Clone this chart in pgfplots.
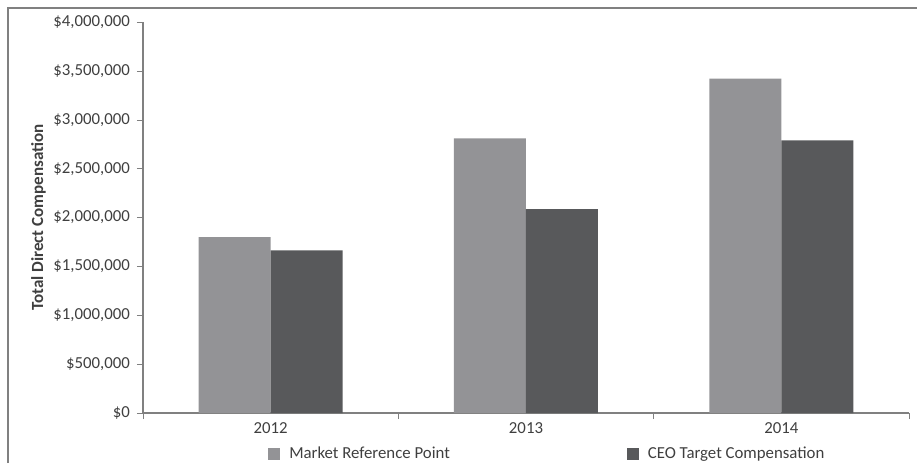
\documentclass[border=0pt]{standalone}
\usepackage{pgfplots}
\pgfplotsset{compat=1.18}
\usepackage{fontspec}
\setmainfont{Carlito}
\definecolor{lightbar}{HTML}{939396}
\definecolor{darkbar}{HTML}{58595B}
\definecolor{txt}{HTML}{3F3F3F}
\definecolor{axisgray}{HTML}{808080}
\begin{document}
\begin{tikzpicture}
\useasboundingbox (0,0) rectangle (458.5pt,231.5pt);
% frame (cropped: only top and left edges show)
\draw[axisgray, line width=0.8pt] (4pt,0) -- (4pt,227.5pt) -- (458.5pt,227.5pt);
\begin{axis}[
    at={(71.5pt,25pt)}, anchor=south west,
    scale only axis,
    width=383pt, height=195.5pt,
    ybar=0pt, bar width=36pt,
    xmin=0.5, xmax=3.5,
    ymin=0, ymax=4000000,
    scaled y ticks=false,
    xtick={1,2,3},
    xticklabels={2012,2013,2014},
    major x tick style={draw=none},
    minor xtick={0.5,1.5,2.5,3.5},
    minor x tick style={axisgray},
    ytick={0,500000,...,4000000},
    yticklabels={\$0,\$500{,}000,\$1{,}000{,}000,\$1{,}500{,}000,\$2{,}000{,}000,\$2{,}500{,}000,\$3{,}000{,}000,\$3{,}500{,}000,\$4{,}000{,}000},
    axis x line*=bottom, axis y line*=left,
    axis line style={axisgray, line width=0.6pt, -},
    tick align=outside, major tick length=3pt, minor tick length=3pt,
    y tick style={axisgray},
    tick label style={font=\fontsize{8.4}{10}\selectfont, text=txt},
    xticklabel style={yshift=1.5pt},
    ylabel={Total Direct Compensation},
    ylabel style={font=\bfseries\fontsize{8.5}{10}\selectfont, text=txt, yshift=-3pt},
    legend columns=2,
    legend style={at={(axis description cs:0.163,-0.105)}, anchor=west,
        draw=none, fill=none, inner sep=0pt,
        font=\fontsize{8.4}{10}\selectfont, text=txt,
        /tikz/every odd column/.append style={column sep=2.5pt},
        /tikz/every even column/.append style={column sep=86.5pt}},
    legend image code/.code={\fill[#1] (0pt,-3pt) rectangle (6pt,3pt);},
]
\addplot[fill=lightbar, draw=none] coordinates {(1,1800000) (2,2810000) (3,3420000)};
\addlegendentry{Market Reference Point}
\addplot[fill=darkbar, draw=none] coordinates {(1,1665000) (2,2085000) (3,2790000)};
\addlegendentry{CEO Target Compensation}
\end{axis}
\end{tikzpicture}
\end{document}
